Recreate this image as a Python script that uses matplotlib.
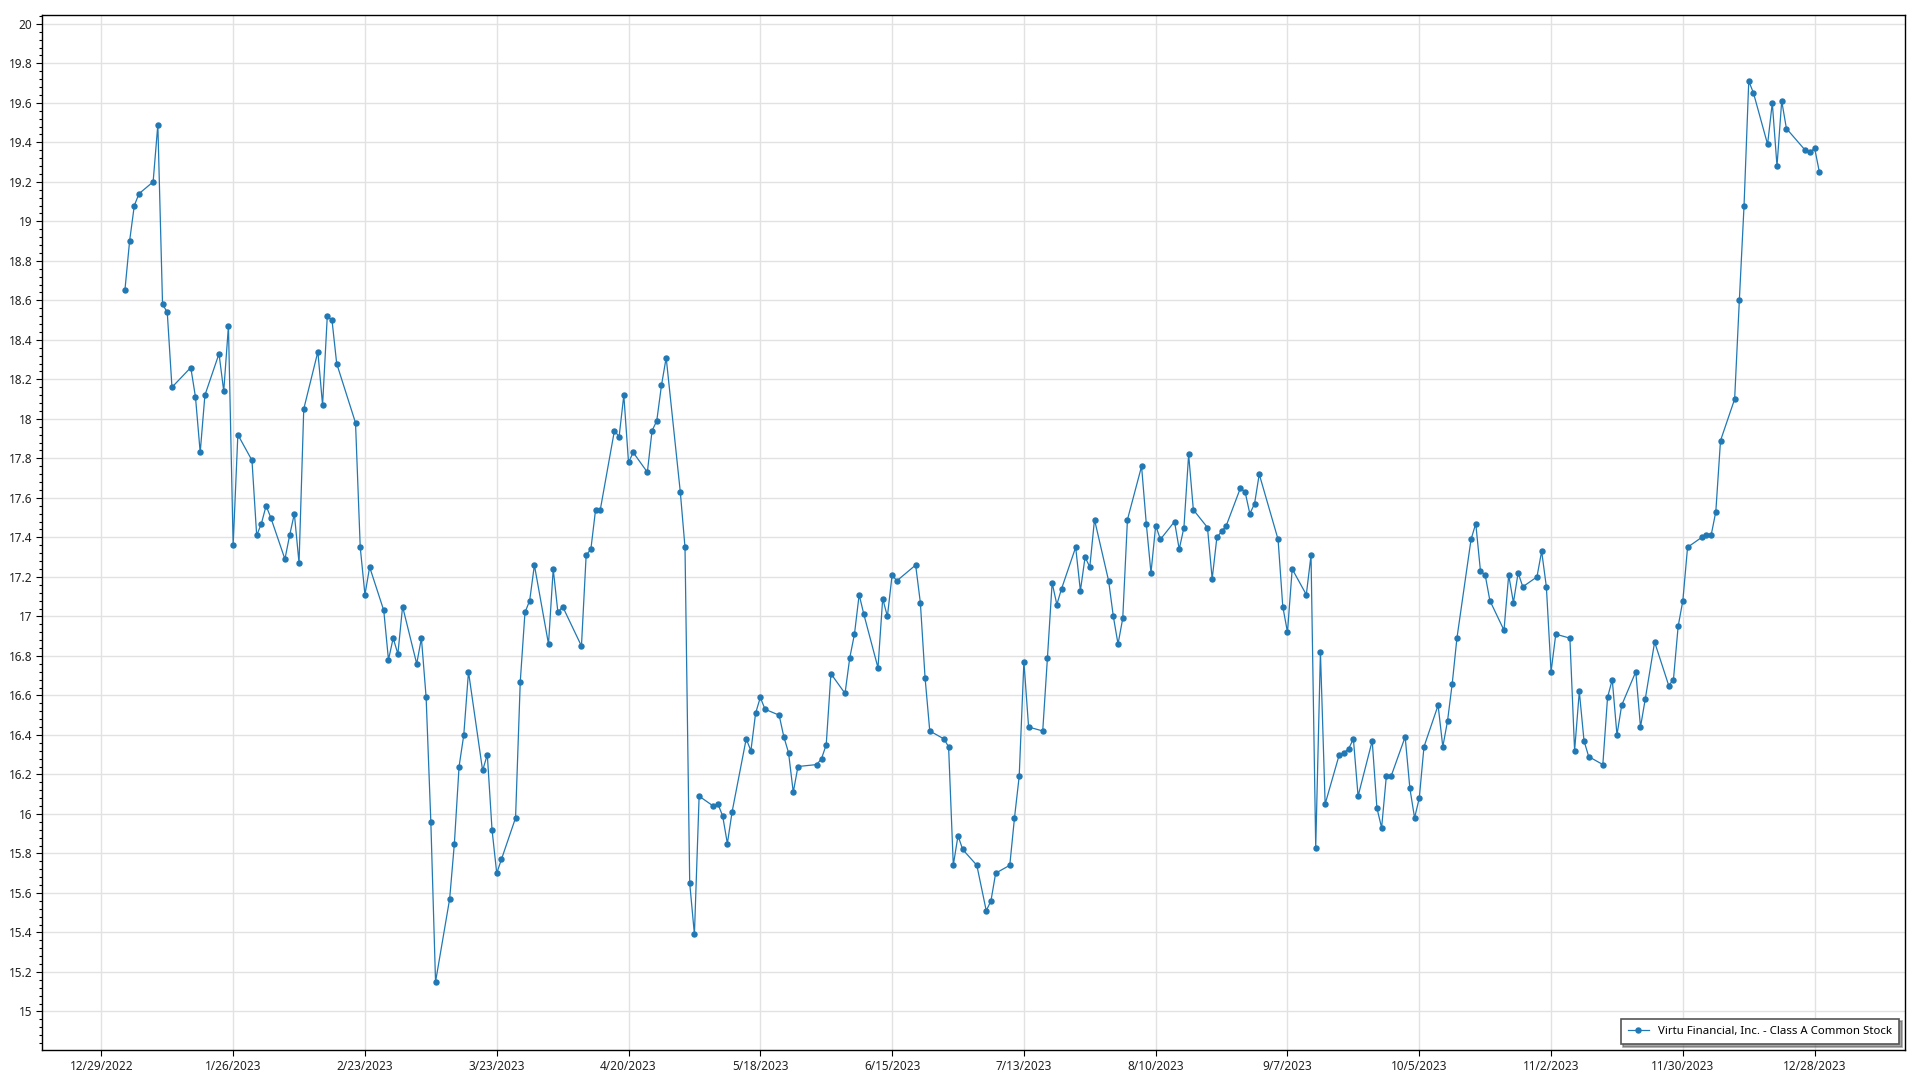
import matplotlib
matplotlib.use('Agg')
import matplotlib.pyplot as plt
import matplotlib.dates as mdates
from matplotlib.ticker import MultipleLocator, FuncFormatter
import pandas as pd

# NYSE closed on these weekdays in 2023
holidays = ['2023-01-16', '2023-02-20', '2023-04-07', '2023-05-29', '2023-06-19',
            '2023-07-04', '2023-09-04', '2023-11-23', '2023-12-25']

# daily closing prices, one list per month
jan = [18.65, 18.90, 19.08, 19.14, 19.20, 19.49, 18.58, 18.54, 18.16, 18.26, 18.11,
       17.83, 18.12, 18.33, 18.14, 18.47, 17.36, 17.92, 17.79, 17.41]
feb = [17.47, 17.56, 17.50, 17.29, 17.41, 17.52, 17.27, 18.05, 18.34, 18.07, 18.52,
       18.50, 18.28, 17.98, 17.35, 17.11, 17.25, 17.03, 16.78]
mar = [16.89, 16.81, 17.05, 16.76, 16.89, 16.59, 15.96, 15.15, 15.57, 15.85, 16.24,
       16.40, 16.72, 16.22, 16.30, 15.92, 15.70, 15.77, 15.98, 16.67, 17.02, 17.08, 17.26]
apr = [16.86, 17.24, 17.02, 17.05, 16.85, 17.31, 17.34, 17.54, 17.54, 17.94, 17.91,
       18.12, 17.78, 17.83, 17.73, 17.94, 17.99, 18.17, 18.31]
may = [17.63, 17.35, 15.65, 15.39, 16.09, 16.04, 16.05, 15.99, 15.85, 16.01, 16.38,
       16.32, 16.51, 16.59, 16.53, 16.50, 16.39, 16.31, 16.11, 16.24, 16.25, 16.28]
jun = [16.35, 16.71, 16.61, 16.79, 16.91, 17.11, 17.01, 16.74, 17.09, 17.00, 17.21,
       17.18, 17.26, 17.07, 16.69, 16.42, 16.38, 16.34, 15.74, 15.89, 15.82]
jul = [15.74, 15.51, 15.56, 15.70, 15.74, 15.98, 16.19, 16.77, 16.44, 16.42, 16.79,
       17.17, 17.06, 17.14, 17.35, 17.13, 17.30, 17.25, 17.49, 17.18]
aug = [17.00, 16.86, 16.99, 17.49, 17.76, 17.47, 17.22, 17.46, 17.39, 17.48, 17.34,
       17.45, 17.82, 17.54, 17.45, 17.19, 17.40, 17.43, 17.46, 17.65, 17.63, 17.52, 17.57]
sep = [17.72, 17.39, 17.05, 16.92, 17.24, 17.11, 17.31, 15.83, 16.82, 16.05, 16.30,
       16.31, 16.33, 16.38, 16.09, 16.37, 16.03, 15.93, 16.19, 16.19]
oct = [16.39, 16.13, 15.98, 16.08, 16.34, 16.55, 16.34, 16.47, 16.66, 16.89, 17.39,
       17.47, 17.23, 17.21, 17.08, 16.93, 17.21, 17.07, 17.22, 17.15, 17.20, 17.33]
nov = [17.15, 16.72, 16.91, 16.89, 16.32, 16.62, 16.37, 16.29, 16.25, 16.59, 16.68,
       16.40, 16.55, 16.72, 16.44, 16.58, 16.87, 16.65, 16.68, 16.95, 17.08]
dec = [17.35, 17.40, 17.41, 17.41, 17.53, 17.89, 18.10, 18.60, 19.08, 19.71, 19.65,
       19.39, 19.60, 19.28, 19.61, 19.47, 19.36, 19.35, 19.37, 19.25]

series_name = 'Virtu Financial, Inc. - Class A Common Stock'


def main():
    plt.rcParams['font.family'] = ['Noto Sans', 'DejaVu Sans']

    dates = pd.bdate_range('2023-01-03', '2023-12-29', freq='C', holidays=holidays)
    prices = jan + feb + mar + apr + may + jun + jul + aug + sep + oct + nov + dec
    df = pd.DataFrame({'date': dates, 'close': prices})

    fig = plt.figure(figsize=(19.2, 10.8), dpi=100)
    ax = fig.add_axes([0.0219, 0.0278, 0.9703, 0.958])

    ax.plot(df['date'], df['close'], color='#2078b4', linewidth=0.9,
            marker='o', markersize=3.6, label=series_name)

    x0 = dates[0] - pd.Timedelta(days=17.6)
    ax.set_xlim(x0, x0 + pd.Timedelta(days=395.8))
    ax.set_ylim(14.805, 20.043)

    # x ticks every 4 weeks, y ticks every 0.2
    ax.set_xticks(pd.date_range('2022-12-29', periods=14, freq='28D'))
    ax.xaxis.set_major_formatter(FuncFormatter(
        lambda v, pos: '{0.month}/{0.day}/{0.year}'.format(mdates.num2date(v))))
    ax.set_yticks([15 + 0.2 * i for i in range(26)])
    ax.yaxis.set_major_formatter(FuncFormatter(lambda v, pos: '%g' % round(v, 2)))
    ax.yaxis.set_minor_locator(MultipleLocator(0.04))

    ax.grid(True, which='major', color='#e2e2e2', linewidth=1)
    ax.set_axisbelow(True)
    ax.tick_params(which='major', direction='out', length=4, width=0.8,
                   labelsize=8.5, labelcolor='#222222', pad=3)
    ax.tick_params(which='minor', direction='out', length=2, width=0.8)
    for s in ax.spines.values():
        s.set_color('black')
        s.set_linewidth(1)

    leg = ax.legend(loc='lower right', fontsize=8.2, frameon=True, shadow=True,
                    fancybox=False, handlelength=1.8, borderpad=0.65,
                    borderaxespad=0, bbox_to_anchor=(0.9968, 0.0053))
    leg.get_frame().set_edgecolor('#555555')
    leg.get_frame().set_linewidth(1.2)

    fig.savefig('out.png', dpi=100)


if __name__ == '__main__':
    main()
